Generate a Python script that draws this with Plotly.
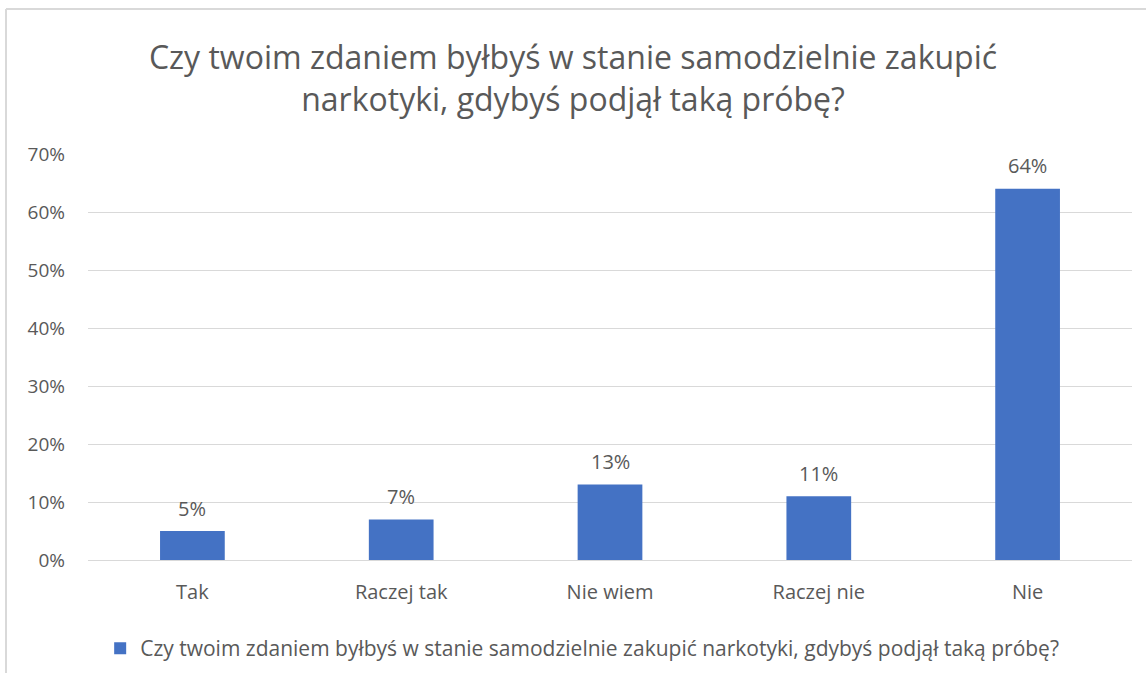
import plotly.graph_objects as go

categories = ["Tak", "Raczej tak", "Nie wiem", "Raczej nie", "Nie"]
values = [5, 7, 13, 11, 64]
value_labels = ["5%", "7%", "13%", "11%", "64%"]
tick_vals = [0, 10, 20, 30, 40, 50, 60, 70]
tick_text = ["0%", "10%", "20%", "30%", "40%", "50%", "60%", "70%"]
series_name = "Czy twoim zdaniem byłbyś w stanie samodzielnie zakupić narkotyki, gdybyś podjął taką próbę?"
title_text = "Czy twoim zdaniem byłbyś w stanie samodzielnie zakupić<br>narkotyki, gdybyś podjął taką próbę?"

W, H = 1146, 673
ml, mr, mt, mb = 88, 14, 154, 113
pw, ph = W - ml - mr, H - mt - mb

def px(x):
    return (x - ml) / pw

def py(y):
    return 1 - (y - mt) / ph

FONT = "Open Sans"
GRAY = "#595959"

fig = go.Figure()
fig.add_trace(go.Bar(
    x=categories, y=values, name=series_name,
    marker=dict(color="#4472C4", line=dict(width=0)),
    width=0.31,
    showlegend=True,
    hoverinfo="skip",
))

for c, v, t in zip(categories, values, value_labels):
    fig.add_annotation(x=c, y=v, text=t, showarrow=False, yanchor="middle", yshift=23,
                       font=dict(family=FONT, size=20, color=GRAY))

fig.update_layout(
    width=W, height=H,
    margin=dict(l=ml, r=mr, t=mt, b=mb),
    paper_bgcolor="white", plot_bgcolor="white",
    title=dict(text=title_text, x=0.5, xanchor="center", xref="container",
               y=1 - 69 / H, yanchor="top",
               font=dict(family=FONT, size=32, color=GRAY)),
    font=dict(family=FONT, color=GRAY),
    xaxis=dict(showline=False, ticks="", tickfont=dict(family=FONT, size=20, color=GRAY),
               showgrid=False, zeroline=False, ticklabelstandoff=18),
    yaxis=dict(range=[0, 70], tickvals=tick_vals, ticktext=tick_text,
               showgrid=True, gridcolor="#D9D9D9", gridwidth=1,
               zeroline=True, zerolinecolor="#D9D9D9", zerolinewidth=1,
               showline=False, ticks="", ticklabelstandoff=22,
               tickfont=dict(family=FONT, size=19, color=GRAY)),
    legend=dict(orientation="h", x=0.508, xanchor="center", xref="container",
                y=1 - 628 / H, yanchor="top", yref="container",
                font=dict(family=FONT, size=21, color=GRAY), itemwidth=30),
    shapes=[
        dict(type="line", xref="paper", yref="paper", x0=px(6), x1=px(1146), y0=py(9), y1=py(9),
             line=dict(color="#D9D9D9", width=2)),
        dict(type="line", xref="paper", yref="paper", x0=px(6), x1=px(6), y0=py(9), y1=py(673),
             line=dict(color="#D9D9D9", width=2)),
    ],
)

fig.write_html("out.html", config={"displayModeBar": False},
               post_script="document.body.style.margin='0';")
